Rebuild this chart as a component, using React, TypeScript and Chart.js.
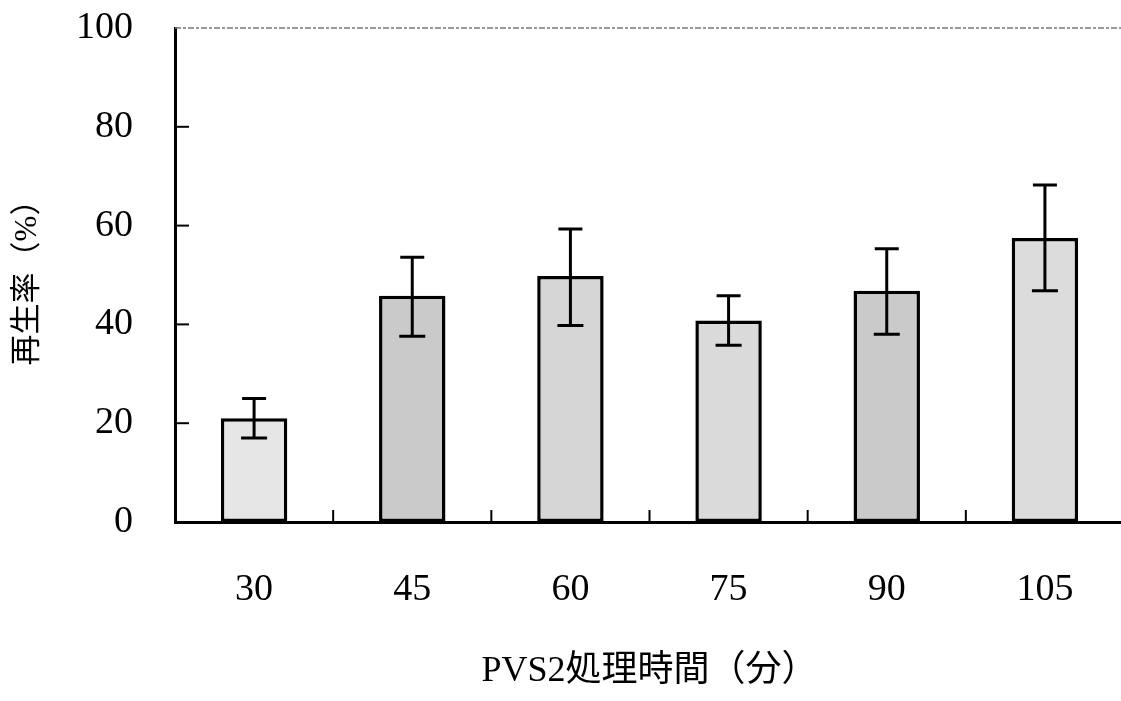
import { useEffect, useRef } from "react";
import { Chart, registerables } from "chart.js";

Chart.register(...registerables);

const categories = ["30", "45", "60", "75", "90", "105"];
const regenRate = [21, 45.8, 49.8, 40.8, 46.8, 57.5];
const errLow = [17, 37.6, 39.8, 35.8, 38.0, 46.8];
const errHigh = [25, 53.6, 59.3, 45.8, 55.3, 68.2];
const yTickValues = [0, 20, 40, 60, 80, 100];
const barFills = ["#e6e6e6", "#cacaca", "#d6d6d6", "#dadada", "#cacaca", "#dcdcdc"];

const xTitle = "PVS2処理時間（分）";
const yTitle = "再生率（%）";

const FONT = "'Liberation Serif', 'Noto Sans CJK JP', serif";

const errorBarPlugin = {
  id: "errorBars",
  afterDatasetsDraw(chart: any) {
    const meta = chart.getDatasetMeta(0);
    const y = chart.scales.y;
    const ctx = chart.ctx;
    ctx.save();
    ctx.strokeStyle = "#000";
    ctx.lineWidth = 3;
    meta.data.forEach((bar: any, i: number) => {
      const x = bar.x;
      const yl = y.getPixelForValue(errLow[i]);
      const yh = y.getPixelForValue(errHigh[i]);
      const cap = 12;
      ctx.beginPath();
      ctx.moveTo(x, yl);
      ctx.lineTo(x, yh);
      ctx.moveTo(x - cap, yh);
      ctx.lineTo(x + cap, yh);
      ctx.moveTo(x - cap - 1, yl);
      ctx.lineTo(x + cap + 1, yl);
      ctx.stroke();
    });
    ctx.restore();
  },
};

const framePlugin = {
  id: "frameTicks",
  afterDraw(chart: any) {
    const { ctx, chartArea } = chart;
    const y = chart.scales.y;
    const meta = chart.getDatasetMeta(0);
    ctx.save();
    ctx.strokeStyle = "#777";
    ctx.lineWidth = 1.5;
    ctx.setLineDash([6, 2, 3, 2]);
    ctx.beginPath();
    ctx.moveTo(chartArea.left, chartArea.top);
    ctx.lineTo(chartArea.right, chartArea.top);
    ctx.stroke();
    ctx.setLineDash([]);
    ctx.strokeStyle = "#000";
    ctx.lineWidth = 2;
    yTickValues.forEach((v) => {
      if (v === 0 || v === 100) return;
      const py = y.getPixelForValue(v);
      ctx.beginPath();
      ctx.moveTo(chartArea.left, py);
      ctx.lineTo(chartArea.left + 14, py);
      ctx.stroke();
    });
    for (let i = 0; i < meta.data.length - 1; i++) {
      const px = (meta.data[i].x + meta.data[i + 1].x) / 2;
      ctx.beginPath();
      ctx.moveTo(px, chartArea.bottom);
      ctx.lineTo(px, chartArea.bottom - 12);
      ctx.stroke();
    }
    ctx.restore();
  },
};

export default function App() {
  const ref = useRef<HTMLCanvasElement | null>(null);

  useEffect(() => {
    document.body.style.margin = "0";
    document.body.style.overflow = "hidden";
    document.body.style.background = "#fff";
    if (!ref.current) return;
    const chart = new Chart(ref.current, {
      type: "bar",
      data: {
        labels: categories,
        datasets: [
          {
            data: regenRate,
            backgroundColor: barFills,
            borderColor: "#000",
            borderWidth: 3.5,
            borderSkipped: false,
            barPercentage: 0.42,
            categoryPercentage: 1,
          },
        ],
      },
      options: {
        animation: false,
        responsive: false,
        maintainAspectRatio: false,
        layout: { padding: { top: 28, right: 6, left: 0, bottom: 0 } },
        plugins: {
          legend: { display: false },
          tooltip: { enabled: false },
        },
        scales: {
          x: {
            type: "category",
            grid: { display: false, drawTicks: false },
            border: { display: true, color: "#000", width: 3 },
            ticks: {
              color: "#000",
              padding: 45,
              font: { family: FONT, size: 38 },
            },
            title: {
              display: true,
              text: xTitle,
              color: "#000",
              font: { family: FONT, size: 36 },
              padding: { top: 0, bottom: 8 },
            },
            afterFit(scale: any) {
              scale.height = 179;
              scale.paddingLeft = 0;
              scale.paddingRight = 0;
            },
          },
          y: {
            min: 0,
            max: 100,
            afterBuildTicks(scale: any) {
              scale.ticks = yTickValues.map((v) => ({ value: v }));
            },
            grid: { display: false, drawTicks: false },
            border: { display: true, color: "#000", width: 3 },
            ticks: {
              color: "#000",
              padding: 42,
              font: { family: FONT, size: 38 },
            },
            title: {
              display: true,
              text: yTitle,
              color: "#000",
              font: { family: FONT, size: 31 },
              padding: { top: 9, bottom: 0 },
            },
            afterFit(scale: any) {
              scale.width = 175;
              scale.paddingTop = 0;
              scale.paddingBottom = 0;
            },
          },
        },
      },
      plugins: [errorBarPlugin, framePlugin],
    });
    return () => chart.destroy();
  }, []);

  return (
    <div style={{ width: 1130, height: 701 }}>
      <canvas ref={ref} width={1130} height={701} style={{ display: "block" }} />
    </div>
  );
}
